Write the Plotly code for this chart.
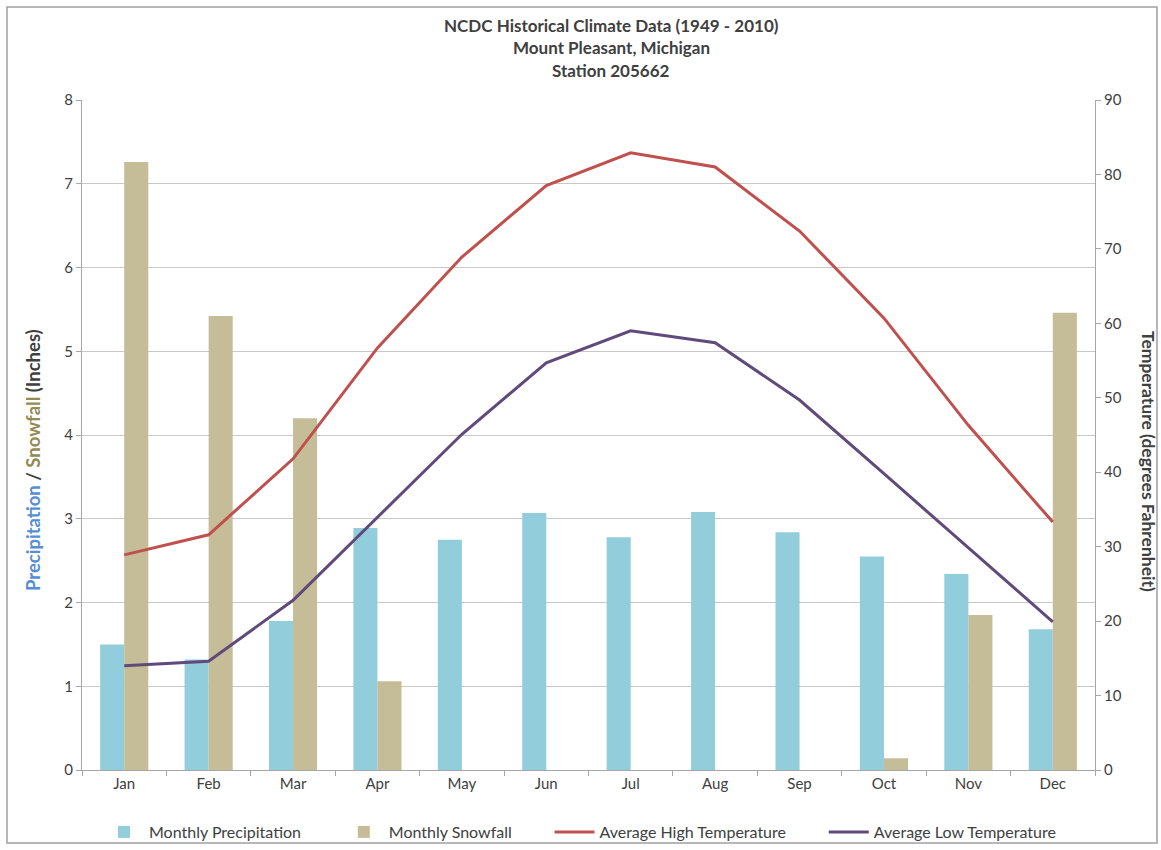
import plotly.graph_objects as go

months = ["Jan", "Feb", "Mar", "Apr", "May", "Jun", "Jul", "Aug", "Sep", "Oct", "Nov", "Dec"]
precip = [1.50, 1.32, 1.78, 2.89, 2.75, 3.07, 2.78, 3.08, 2.84, 2.55, 2.34, 1.68]
snow = [7.26, 5.42, 4.20, 1.06, 0, 0, 0, 0, 0, 0.14, 1.85, 5.46]
high_temp = [28.9, 31.6, 41.8, 56.7, 68.9, 78.5, 82.9, 81.0, 72.4, 60.7, 46.3, 33.3]
low_temp = [14.0, 14.6, 22.8, 34.0, 45.1, 54.7, 59.0, 57.4, 49.7, 39.8, 29.8, 19.9]
series_names = ["Monthly Precipitation", "Monthly Snowfall",
                "Average High Temperature", "Average Low Temperature"]

FONT = "Lato, Open Sans, sans-serif"
TXT = "#404040"

W, H = 1161, 850
L, R, T, B = 82, 66, 100, 80
pw, ph = W - L - R, H - T - B


def px(x):
    return (x - L) / pw


def py(y):
    return (H - B - y) / ph


pad = "\u00a0" * 8
fig = go.Figure()
fig.add_trace(go.Bar(x=months, y=precip, name=series_names[0] + pad,
                     marker=dict(color="#92CDDC", line=dict(width=0))))
fig.add_trace(go.Bar(x=months, y=snow, name=series_names[1] + pad,
                     marker=dict(color="#C4BD97", line=dict(width=0))))
fig.add_trace(go.Scatter(x=months, y=high_temp, name=series_names[2] + pad,
                         mode="lines", line=dict(color="#C0504D", width=3), yaxis="y2"))
fig.add_trace(go.Scatter(x=months, y=low_temp, name=series_names[3],
                         mode="lines", line=dict(color="#604A7B", width=3), yaxis="y2"))

fig.update_layout(
    width=W, height=H, autosize=False,
    margin=dict(l=L, r=R, t=T, b=B, autoexpand=False),
    paper_bgcolor="white", plot_bgcolor="white",
    font=dict(family=FONT, size=15, color=TXT),
    barmode="group", bargap=0.43, bargroupgap=0,
    showlegend=True,
    legend=dict(orientation="h", xref="container", yref="container",
                x=580 / W, xanchor="center", y=1 - 832 / H, yanchor="middle",
                bgcolor="rgba(0,0,0,0)",
                font=dict(size=16, color=TXT), traceorder="normal",
                itemwidth=40),
    xaxis=dict(showgrid=False, showline=True, linecolor="#A6A6A6", linewidth=1,
               ticks="outside", tickson="boundaries", ticklen=5, tickcolor="#A6A6A6",
               tickfont=dict(size=15, color=TXT)),
    yaxis=dict(range=[0, 8], dtick=1, showgrid=True, gridcolor="#C8C8C8", gridwidth=1,
               showline=True, linecolor="#A6A6A6", linewidth=1, ticks="outside",
               ticklen=5, tickcolor="#A6A6A6", zeroline=False,
               tickfont=dict(size=15, color=TXT)),
    yaxis2=dict(range=[0, 90], dtick=10, overlaying="y", side="right", showgrid=False,
                showline=True, linecolor="#A6A6A6", linewidth=1, ticks="outside",
                ticklen=5, tickcolor="#A6A6A6", zeroline=False,
                tickfont=dict(size=15, color=TXT)),
)

anns = [
    ("<b>NCDC Historical Climate Data (1949 - 2010)</b>", 25),
    ("<b>Mount Pleasant, Michigan</b>", 47.5),
    ("<b>Station 205662</b>", 70),
]
for text, y in anns:
    fig.add_annotation(text=text, x=px(611), y=py(y), xref="paper", yref="paper",
                       showarrow=False, xanchor="center", yanchor="middle",
                       font=dict(size=17, color=TXT, family=FONT))

fig.add_annotation(
    text="<b><span style='color:#558ED5'>Precipitation</span> / "
         "<span style='color:#948A54'>Snowfall</span> (Inches)</b>",
    x=px(33), y=py(460), xref="paper", yref="paper", showarrow=False,
    textangle=-90, xanchor="center", yanchor="middle",
    font=dict(size=18.5, color=TXT, family=FONT))
fig.add_annotation(
    text="<b>Temperature (degrees Fahrenheit)</b>",
    x=px(1149), y=py(461), xref="paper", yref="paper", showarrow=False,
    textangle=90, xanchor="center", yanchor="middle",
    font=dict(size=17.5, color=TXT, family=FONT))

fig.add_shape(type="rect", xref="paper", yref="paper",
              x0=px(7), x1=px(1157), y0=py(843), y1=py(7),
              line=dict(color="#A0A0A0", width=1.5), fillcolor="rgba(0,0,0,0)", layer="below")

fig.write_html(
    "out.html",
    config={"displayModeBar": False},
    post_script=(
        "document.body.style.margin='0';document.body.style.padding='0';"
        "document.body.style.overflow='hidden';"
    ),
)
